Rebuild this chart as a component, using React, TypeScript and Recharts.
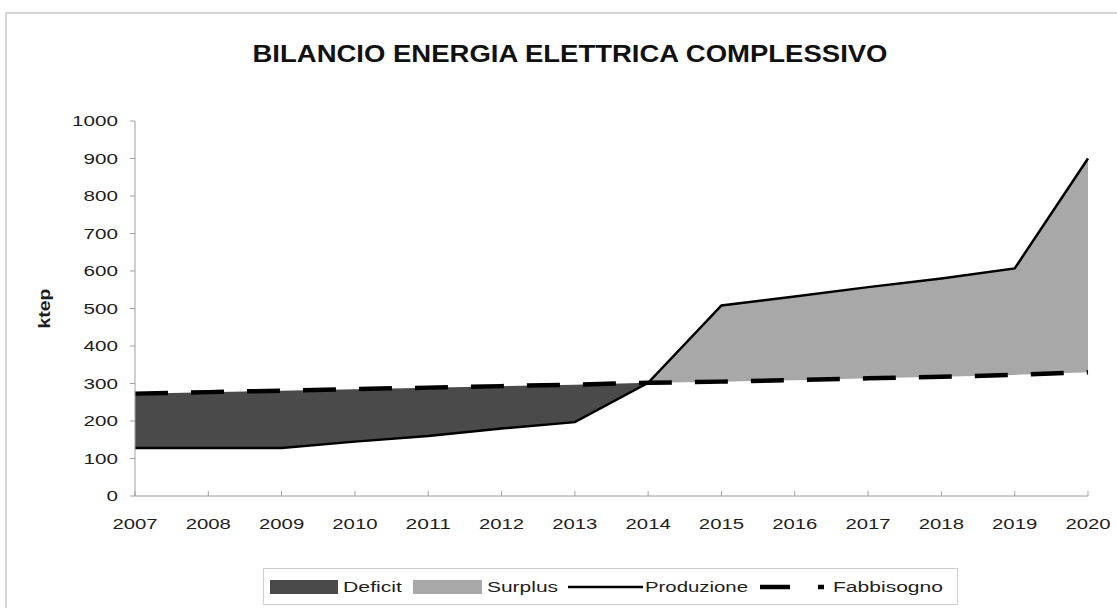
import React from 'react';
import { ComposedChart, Area, Line, XAxis, YAxis, Legend } from 'recharts';

const years = ['2007', '2008', '2009', '2010', '2011', '2012', '2013', '2014', '2015', '2016', '2017', '2018', '2019', '2020'];
const produzione = [128, 128, 128, 145, 160, 180, 197, 302, 508, 532, 557, 580, 607, 900];
const fabbisogno = [273, 277, 281, 285, 289, 293, 297, 302, 305, 309, 314, 318, 323, 330];
const yTicks = [0, 100, 200, 300, 400, 500, 600, 700, 800, 900, 1000];

const title = 'BILANCIO ENERGIA ELETTRICA COMPLESSIVO';
const yLabel = 'ktep';
const legendNames = ['Deficit', 'Surplus', 'Produzione', 'Fabbisogno'];

const FONT = '"Liberation Sans", Arial, sans-serif';
const TEXT = '#1e1e1e';
const DEFICIT = '#4a4a4a';
const SURPLUS = '#a8a8a8';

const data = years.map((year, i) => {
  const p = produzione[i];
  const f = fabbisogno[i];
  return {
    year,
    produzione: p,
    fabbisogno: f,
    deficit: p <= f ? [p, f] : [f, f],
    surplus: p >= f ? [f, p] : [p, p],
  };
});

const YTick = (props: any) => {
  const { x, y, payload } = props;
  const s = String(payload.value);
  return (
    <text x={x} y={y} dy={5} textAnchor="end" fontSize={14} fill={TEXT} fontFamily={FONT}
      textLength={s.length * 11.5} lengthAdjust="spacingAndGlyphs">{s}</text>
  );
};

const XTick = (props: any) => {
  const { x, payload } = props;
  const s = String(payload.value);
  return (
    <text x={x} y={529} textAnchor="middle" fontSize={14} fill={TEXT} fontFamily={FONT}
      textLength={s.length * 11.3} lengthAdjust="spacingAndGlyphs">{s}</text>
  );
};

const KtepLabel = (props: any) => {
  const vb = props.viewBox || { x: 65, y: 121, width: 70, height: 375 };
  const cy = vb.y + vb.height / 2;
  const cx = 44;
  return (
    <text x={cx} y={cy} transform={`rotate(-90 ${cx} ${cy})`} dy={6} textAnchor="middle" fontSize={16}
      fontWeight="bold" fill={TEXT} fontFamily={FONT} textLength={40} lengthAdjust="spacingAndGlyphs">{yLabel}</text>
  );
};

const LegendContent = () => {
  const cy = 19;
  return (
    <svg width={696} height={38} style={{ display: 'block' }}>
      <rect x={0.5} y={0.5} width={694} height={36} fill="#fff" stroke="#cfcfcf" strokeWidth={1} />
      <rect x={7} y={12} width={68} height={14} fill={DEFICIT} />
      <text x={80} y={cy + 5} fontSize={14} fill={TEXT} fontFamily={FONT} textLength={59} lengthAdjust="spacingAndGlyphs">{legendNames[0]}</text>
      <rect x={150} y={12} width={69} height={14} fill={SURPLUS} />
      <text x={224} y={cy + 5} fontSize={14} fill={TEXT} fontFamily={FONT} textLength={71} lengthAdjust="spacingAndGlyphs">{legendNames[1]}</text>
      <line x1={305} x2={380} y1={cy} y2={cy} stroke="#000" strokeWidth={2.5} />
      <text x={382} y={cy + 5} fontSize={14} fill={TEXT} fontFamily={FONT} textLength={103} lengthAdjust="spacingAndGlyphs">{legendNames[2]}</text>
      <line x1={497} x2={527} y1={cy} y2={cy} stroke="#000" strokeWidth={4.5} />
      <line x1={555} x2={561} y1={cy} y2={cy} stroke="#000" strokeWidth={4.5} />
      <text x={570} y={cy + 5} fontSize={14} fill={TEXT} fontFamily={FONT} textLength={110} lengthAdjust="spacingAndGlyphs">{legendNames[3]}</text>
    </svg>
  );
};

export default function App() {
  return (
    <div style={{ position: 'fixed', left: 0, top: 0, width: 1117, height: 608, background: '#fff', overflow: 'hidden' }}>
      <div style={{ position: 'absolute', left: 5, top: 12, width: 1200, height: 700, border: '2px solid #d4d4d4', boxSizing: 'border-box' }} />
      <svg style={{ position: 'absolute', left: 0, top: 0 }} width={1117} height={100}>
        <text x={570} y={62} textAnchor="middle" fontSize={24} fontWeight="bold" fill="#111" fontFamily={FONT}
          textLength={635} lengthAdjust="spacingAndGlyphs">{title}</text>
      </svg>
      <div style={{ position: 'absolute', left: 0, top: 0 }}>
        <ComposedChart width={1117} height={608} data={data} margin={{ top: 121, right: 29, bottom: 82, left: 65 }}>
          <XAxis dataKey="year" height={30} stroke="#a0a0a0" tickSize={-5} tickMargin={5}
            tick={<XTick />} interval={0} axisLine={{ stroke: '#a0a0a0' }} tickLine={{ stroke: '#a0a0a0' }} />
          <YAxis width={70} domain={[0, 1000]} ticks={yTicks} interval={0} tickSize={5} tickMargin={12}
            tick={<YTick />} axisLine={{ stroke: '#a0a0a0' }} tickLine={{ stroke: '#a0a0a0' }}
            label={<KtepLabel />} />
          <Area type="linear" dataKey="deficit" name={legendNames[0]} stroke="none" fill={DEFICIT} fillOpacity={1} isAnimationActive={false} activeDot={false} />
          <Area type="linear" dataKey="surplus" name={legendNames[1]} stroke="none" fill={SURPLUS} fillOpacity={1} isAnimationActive={false} activeDot={false} />
          <Line type="linear" dataKey="fabbisogno" name={legendNames[3]} stroke="#000" strokeWidth={4.5} strokeDasharray="33 23" dot={false} activeDot={false} isAnimationActive={false} />
          <Line type="linear" dataKey="produzione" name={legendNames[2]} stroke="#000" strokeWidth={2.5} dot={false} activeDot={false} isAnimationActive={false} />
          <Legend layout="horizontal" verticalAlign="middle" align="center" content={<LegendContent />}
            wrapperStyle={{ left: 263, top: 568, width: 696, height: 38 }} />
        </ComposedChart>
      </div>
    </div>
  );
}
